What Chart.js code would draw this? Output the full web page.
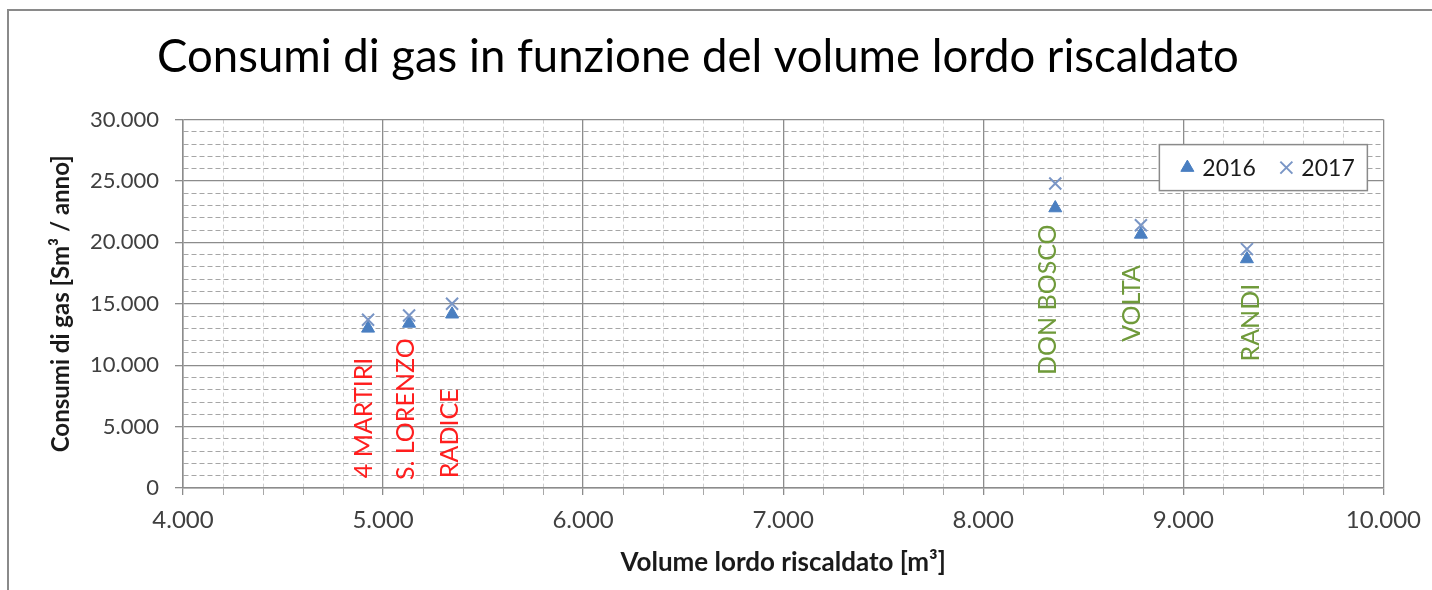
<!DOCTYPE html>
<html><head><meta charset="utf-8">
<script src="https://cdn.jsdelivr.net/npm/chart.js@4.4.1/dist/chart.umd.min.js"></script>
<style>html,body{margin:0;padding:0;background:#fff;} #wrap{width:1432px;height:590px;position:relative;}</style>
</head><body><div id="wrap"><canvas id="c"></canvas></div>
<script>
// ---- data ----
const schools = ['4 MARTIRI', 'S. LORENZO', 'RADICE', 'DON BOSCO', 'VOLTA', 'RANDI'];
const volumes = [4925, 5130, 5345, 8360, 8788, 9318];
const gas2016 = [13000, 13400, 14150, 22800, 20650, 18650];
const gas2017 = [13700, 14050, 15000, 24800, 21400, 19450];
const seriesNames = ['2016', '2017'];
const xRange = [4000, 10000];
const yRange = [0, 30000];
const xMajorStep = 1000, xMinorStep = 200;
const yMajorStep = 5000, yMinorStep = 1000;
const chartTitle = 'Consumi di gas in funzione del volume lordo riscaldato';
const xTitle = 'Volume lordo riscaldato [m³]';
const yTitle = 'Consumi di gas [Sm³ / anno]';
// where each school name is written (data coordinates: x centre, y start of the vertical text)
const nameLabelX = [4903, 5112, 5332, 8324, 8743, 9337];
const nameLabelY = [800, 650, 800, 9200, 11900, 10300];
const nameGroup = ['red', 'red', 'red', 'green', 'green', 'green'];

// ---- styling ----
const F = 'Lato, "Open Sans", sans-serif';
const groupColors = {red: '#ff1e1e', green: '#6f9a3a'};
const fmt = v => String(Math.round(v)).replace(/\B(?=(\d{3})+(?!\d))/g, '.');

const isMajor = (v, step) => Math.abs(Math.round(v) % step) === 0;

const frame = {
  id: 'frame',
  beforeDraw(chart) {
    const c = chart.ctx;
    c.save();
    c.fillStyle = '#fff';
    c.fillRect(0, 0, chart.width, chart.height);
    c.strokeStyle = '#8a8a8a';
    c.lineWidth = 2;
    c.beginPath();
    c.moveTo(8, chart.height);
    c.lineTo(8, 10);
    c.lineTo(chart.width, 10);
    c.stroke();
    c.restore();
  }
};

const nameLabels = {
  id: 'nameLabels',
  beforeDatasetsDraw(chart) {
    const c = chart.ctx, xs = chart.scales.x, ys = chart.scales.y;
    c.save();
    c.font = '25px ' + F;
    c.textBaseline = 'middle';
    c.textAlign = 'left';
    schools.forEach((s, i) => {
      const px = xs.getPixelForValue(nameLabelX[i]);
      const py = ys.getPixelForValue(nameLabelY[i]);
      c.save();
      c.translate(px, py);
      c.rotate(-Math.PI / 2);
      c.fillStyle = groupColors[nameGroup[i]];
      c.fillText(s, 0, 0);
      c.restore();
    });
    c.restore();
  }
};

const boxLegend = {
  id: 'boxLegend',
  afterDatasetsDraw(chart) {
    const c = chart.ctx, a = chart.chartArea;
    const w = 208, h = 46;
    const x0 = a.right - 16 - w, y0 = a.top + 25;
    c.save();
    c.fillStyle = '#fff';
    c.fillRect(x0, y0, w, h);
    c.strokeStyle = '#8a8a8a';
    c.lineWidth = 1.5;
    c.strokeRect(x0, y0, w, h);
    c.font = '23px ' + F;
    c.textBaseline = 'middle';
    const cy = y0 + h / 2;
    const offs = [28, 127];
    chart.data.datasets.forEach((ds, i) => {
      const mx = x0 + offs[i];
      c.fillStyle = ds.pointBackgroundColor;
      c.strokeStyle = ds.pointBorderColor;
      c.lineWidth = ds.pointBorderWidth;
      Chart.helpers.drawPoint(c, {pointStyle: ds.pointStyle, radius: ds.pointRadius, borderWidth: ds.pointBorderWidth, rotation: 0}, mx, cy);
      c.fillStyle = '#1a1a1a';
      c.fillText(ds.label, mx + 15, cy + 1);
    });
    c.restore();
  }
};

new Chart(document.getElementById('c'), {
  type: 'scatter',
  data: {
    datasets: [
      {
        label: seriesNames[0],
        data: volumes.map((v, i) => ({x: v, y: gas2016[i]})),
        pointStyle: 'triangle',
        pointRadius: 7.5,
        pointHoverRadius: 7.5,
        pointBackgroundColor: '#4a7fc1',
        pointBorderColor: '#4a7fc1',
        pointBorderWidth: 1,
        order: 2
      },
      {
        label: seriesNames[1],
        data: volumes.map((v, i) => ({x: v, y: gas2017[i]})),
        pointStyle: 'crossRot',
        pointRadius: 8.5,
        pointHoverRadius: 8.5,
        pointBackgroundColor: '#7a96c6',
        pointBorderColor: '#7a96c6',
        pointBorderWidth: 2,
        order: 1
      }
    ]
  },
  options: {
    responsive: true,
    maintainAspectRatio: false,
    animation: false,
    layout: {padding: {top: 10, left: 10, right: 46, bottom: 0}},
    plugins: {
      legend: {display: false},
      tooltip: {enabled: false},
      title: {
        display: true,
        text: chartTitle,
        color: '#000',
        font: {family: F, size: 45.5, weight: 'normal'},
        padding: {top: 20, bottom: 35}
      }
    },
    scales: {
      x: {
        type: 'linear',
        min: xRange[0], max: xRange[1],
        ticks: {
          stepSize: xMinorStep, autoSkip: false, maxRotation: 0, color: '#404040',
          font: {family: F, size: 24}, padding: 11,
          callback: v => isMajor(v, xMajorStep) ? fmt(v) : ''
        },
        grid: {
          color: c => (c.tick && isMajor(c.tick.value, xMajorStep)) ? '#8c8c8c' : '#cfcfcf',
          lineWidth: c => (c.tick && isMajor(c.tick.value, xMajorStep)) ? 1.3 : 1,
          tickLength: 7,
          tickColor: c => (c.tick && isMajor(c.tick.value, xMajorStep)) ? '#8c8c8c' : '#a8a8a8'
        },
        border: {display: true, color: '#8c8c8c', width: 1.5,
          dash: c => (c.tick && !isMajor(c.tick.value, xMajorStep)) ? [4, 3] : []},
        title: {display: true, text: xTitle, color: '#1a1a1a',
          font: {family: F, size: 26, weight: 'bold'}, padding: {top: 0, bottom: 12}},
        afterFit: s => { s.height = 102; }
      },
      y: {
        type: 'linear',
        min: yRange[0], max: yRange[1],
        ticks: {
          stepSize: yMinorStep, autoSkip: false, color: '#404040',
          font: {family: F, size: 22}, padding: 16,
          callback: v => isMajor(v, yMajorStep) ? fmt(v) : ''
        },
        grid: {
          color: c => (c.tick && isMajor(c.tick.value, yMajorStep)) ? '#8c8c8c' : '#a6a6a6',
          lineWidth: c => (c.tick && isMajor(c.tick.value, yMajorStep)) ? 1.3 : 1,
          tickLength: 8,
          tickColor: c => (c.tick && isMajor(c.tick.value, yMajorStep)) ? '#8c8c8c' : 'rgba(0,0,0,0)'
        },
        border: {display: true, color: '#8c8c8c', width: 1.5,
          dash: c => (c.tick && !isMajor(c.tick.value, yMajorStep)) ? [5, 3] : []},
        title: {display: true, text: yTitle, color: '#1a1a1a',
          font: {family: F, size: 24, weight: 'bold'}, padding: {top: 37, bottom: 0}},
        afterFit: s => { s.width = 173; }
      }
    }
  },
  plugins: [frame, nameLabels, boxLegend]
});
</script>
</body></html>
